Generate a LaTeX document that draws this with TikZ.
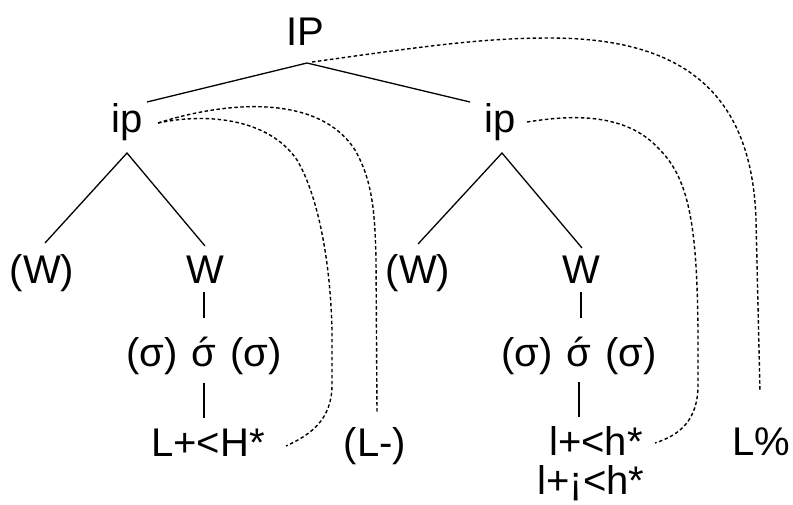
\documentclass[tikz,border=0pt]{standalone}
\usepackage{fontspec}
\setmainfont{Liberation Sans}
\newcommand{\acsig}{{\ooalign{σ\cr\hidewidth\raisebox{-0.02em}{\kern0.04em ´}\hidewidth\cr}}}
\begin{document}
\begin{tikzpicture}[x=1pt,y=-1pt,
  font=\fontsize{40}{42}\selectfont,
  lbl/.style={anchor=base, inner sep=0pt},
  tree/.style={line width=1.3pt},
  assoc/.style={dash pattern=on 3.5pt off 2.5pt, line width=1.4pt}]
\useasboundingbox (0,0) rectangle (793,504);

% nodes
\node[lbl] (IP)  at (305,45) {IP};
\node[lbl] (ipL) at (127,132) {ip};
\node[lbl] (ipR) at (500,132) {ip};
\node[lbl] (WL1) at (42,283) {(W)};
\node[lbl] (WL2) at (205,283) {W};
\node[lbl] (WR1) at (418,283) {(W)};
\node[lbl] (WR2) at (581,283) {W};
\node[lbl] (sL)  at (204,366) {(σ)\hspace{14pt}\acsig\hspace{14pt}(σ)};
\node[lbl] (sR)  at (579,366) {(σ)\hspace{14pt}\acsig\hspace{14pt}(σ)};
\node[lbl] (tL)  at (208,456) {L+<H*};
\node[lbl] (bL)  at (375,456) {(L-)};
\node[lbl] (tR)  at (596,455) {l+<h*};
\node[lbl] (tR2) at (591,494) {l+¡<h*};
\node[lbl] (bR)  at (761,455) {L\%};

% attachment points
\coordinate (IPa)  at (307,63);
\coordinate (ipLn) at (147,102);
\coordinate (ipRn) at (470,102);
\coordinate (ipLa) at (127,153);
\coordinate (WL1n) at (45,243);
\coordinate (WL2n) at (205,246);
\coordinate (ipRa) at (502,153);
\coordinate (WR1n) at (418,244);
\coordinate (WR2n) at (582,248);
\coordinate (WL2s) at (204,292);
\coordinate (sLn)  at (204,318);
\coordinate (sLs)  at (204,383);
\coordinate (tLn)  at (204,418);
\coordinate (WR2s) at (581,292);
\coordinate (sRn)  at (581,318);
\coordinate (sRs)  at (579,382);
\coordinate (tRn)  at (579,417);

\coordinate (IPd)  at (312,62);
\coordinate (bRn)  at (760,392);
\coordinate (ipRd) at (527,122);
\coordinate (tRe)  at (655,443);
\coordinate (ipLd) at (158,123);
\coordinate (tLe)  at (286,446);
\coordinate (bLn)  at (377,412);

% tree
\draw[tree] (ipLn) -- (IPa) -- (ipRn);
\draw[tree] (WL1n) -- (ipLa) -- (WL2n);
\draw[tree] (WR1n) -- (ipRa) -- (WR2n);
\draw[tree] (WL2s) -- (sLn);
\draw[tree] (sLs) -- (tLn);
\draw[tree] (WR2s) -- (sRn);
\draw[tree] (sRs) -- (tRn);

% associations
\draw[assoc] (IPd) .. controls (420,47) and (480,38) .. (550,38)
  .. controls (680,38) and (752,90) .. (756,220) -- (bRn);
\draw[assoc] (ipRd) .. controls (565,116) and (625,110) .. (660,150)
  .. controls (690,180) and (697,230) .. (698,330) -- (698,385)
  .. controls (698,420) and (680,435) .. (tRe);
\draw[assoc] (ipLd) .. controls (210,112) and (270,120) .. (297,160)
  .. controls (315,190) and (330,250) .. (332,330) -- (332,385)
  .. controls (332,420) and (310,435) .. (tLe);
\draw[assoc] (ipLd) .. controls (230,100) and (320,95) .. (355,150)
  .. controls (372,180) and (375,210) .. (376,260) -- (bLn);
\end{tikzpicture}
\end{document}
